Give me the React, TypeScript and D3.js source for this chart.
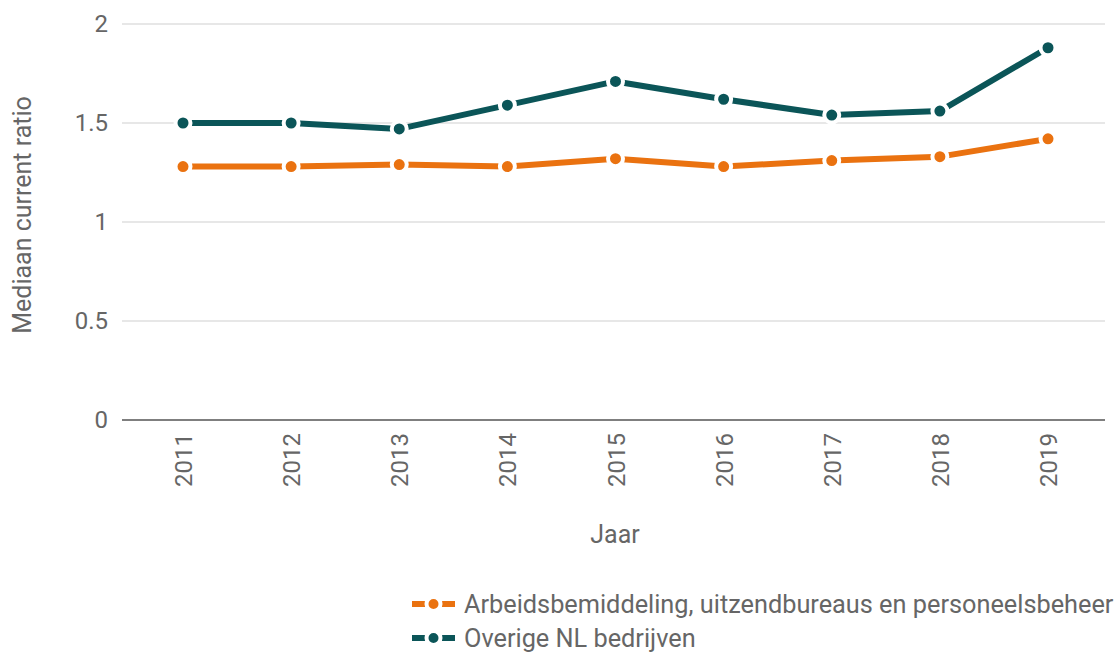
import React from "react";
import * as d3 from "d3";

const years = ["2011", "2012", "2013", "2014", "2015", "2016", "2017", "2018", "2019"];
const arbeids = [1.28, 1.28, 1.29, 1.28, 1.32, 1.28, 1.31, 1.33, 1.42];
const overige = [1.5, 1.5, 1.47, 1.59, 1.71, 1.62, 1.54, 1.56, 1.88];
const yTicks = [0, 0.5, 1, 1.5, 2];
const seriesNames = ["Arbeidsbemiddeling, uitzendbureaus en personeelsbeheer", "Overige NL bedrijven"];
const colors = ["#EA7210", "#0B5558"];

const W = 1117, H = 654;
const font = "Roboto, 'Noto Sans', sans-serif";
const textColor = "#666666";

export default function App() {
  const x = d3.scalePoint<string>().domain(years).range([183, 1048]);
  const y = d3.scaleLinear().domain([0, 2]).range([420, 24]);
  const line = d3.line<number>().x((_, i) => x(years[i])!).y((d) => y(d));
  const series = [arbeids, overige];
  return (
    <svg width={W} height={H} style={{ position: "absolute", left: 0, top: 0, background: "#fff" }} fontFamily={font}>
      {yTicks.map((t) => (
        <g key={t}>
          <line x1={122} x2={1105} y1={y(t)} y2={y(t)} stroke={t === 0 ? "#555" : "#cfcfcf"} strokeWidth={t === 0 ? 1.5 : 1} />
          <text x={108} y={y(t)} dy="0.35em" textAnchor="end" fontSize={24} fill={textColor}>{t}</text>
        </g>
      ))}
      {years.map((yr) => (
        <text key={yr} transform={`translate(${x(yr)! + 9},433) rotate(-90)`} textAnchor="end" fontSize={24} fill={textColor}>{yr}</text>
      ))}
      <text transform="translate(31,215) rotate(-90)" textAnchor="middle" fontSize={25} fill={textColor}>Mediaan current ratio</text>
      <text x={615} y={543} textAnchor="middle" fontSize={25} fill={textColor}>Jaar</text>
      {series.map((s, si) => (
        <g key={si}>
          <path d={line(s)!} fill="none" stroke={colors[si]} strokeWidth={6} strokeLinejoin="round" />
          {s.map((v, i) => (
            <circle key={i} cx={x(years[i])!} cy={y(v)} r={7.5} fill={colors[si]} stroke="#fff" strokeWidth={4} />
          ))}
        </g>
      ))}
      {seriesNames.map((n, i) => {
        const ly = 604 + i * 34;
        return (
          <g key={n}>
            <line x1={412} x2={455} y1={ly} y2={ly} stroke={colors[i]} strokeWidth={6} />
            <circle cx={433.5} cy={ly} r={7} fill={colors[i]} stroke="#fff" strokeWidth={4} />
            <text x={464} y={ly} dy="0.35em" fontSize={25.3} fill={textColor}>{n}</text>
          </g>
        );
      })}
    </svg>
  );
}
